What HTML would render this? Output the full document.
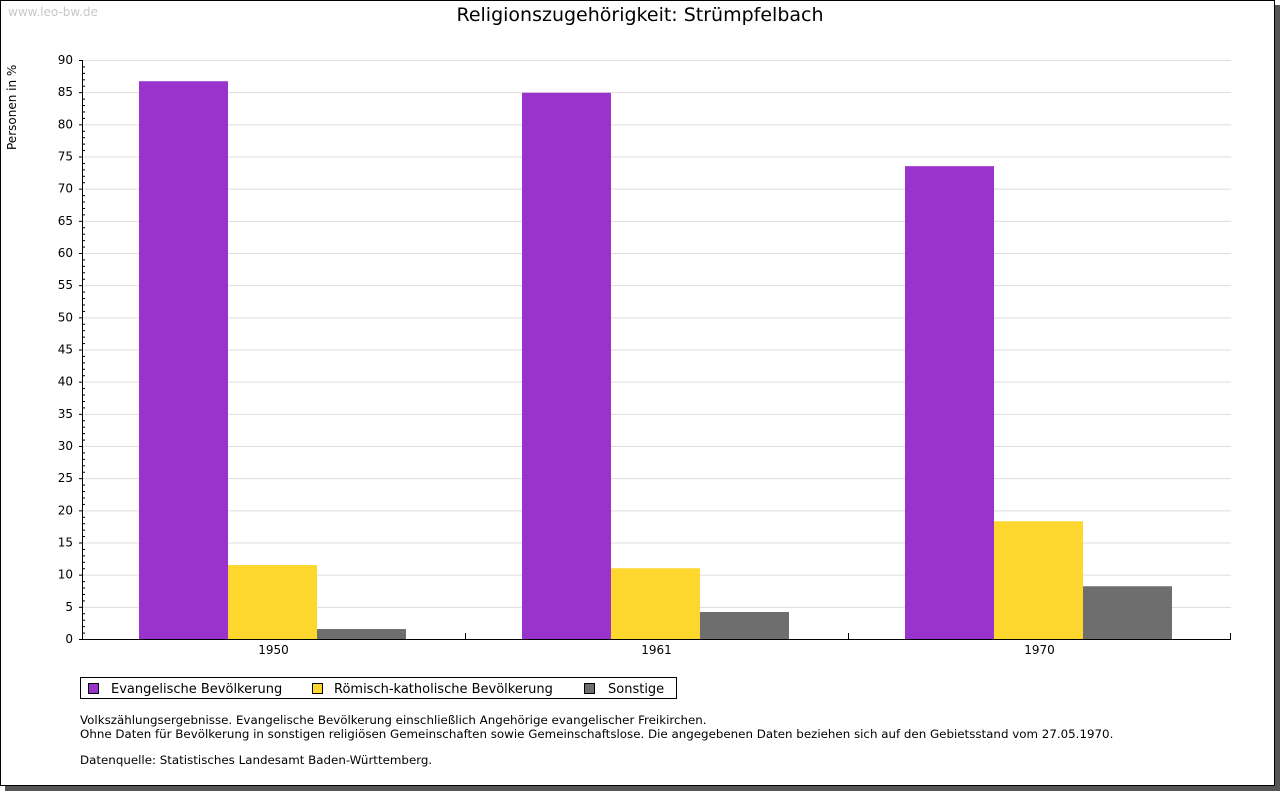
<!DOCTYPE html>
<html><head><meta charset="utf-8">
<style>
html,body{margin:0;padding:0;background:#fff;}
body{width:1280px;height:791px;position:relative;overflow:hidden;font-family:"DejaVu Sans","Liberation Sans",sans-serif;}
svg text{font-family:"DejaVu Sans","Liberation Sans",sans-serif;}
</style></head>
<body>
<svg id="chart" width="1280" height="791" xmlns="http://www.w3.org/2000/svg">
<rect x="5" y="5" width="1275" height="786" fill="#555"/>
<rect x="0.5" y="0.5" width="1274" height="785" fill="#fff" stroke="#000"/>
<text x="8" y="16" font-size="12" fill="#c8c8c8">www.leo-bw.de</text>
<text x="640" y="21" font-size="19" text-anchor="middle" fill="#000">Religionszugehörigkeit: Strümpfelbach</text>
<text transform="translate(16,150) rotate(-90)" font-size="12" fill="#000">Personen in %</text>
<g id="grid"></g><g id="bars"></g><g id="axes"></g>
<g>
<rect x="80.5" y="677.5" width="596" height="21" fill="#fff" stroke="#000"/>
<rect x="88.5" y="683.5" width="10" height="10" fill="#9933cc" stroke="#000"/>
<text x="111" y="693" font-size="13">Evangelische Bevölkerung</text>
<rect x="312.5" y="683.5" width="10" height="10" fill="#fdd72e" stroke="#000"/>
<text x="334" y="693" font-size="13">Römisch-katholische Bevölkerung</text>
<rect x="584.5" y="683.5" width="10" height="10" fill="#6e6e6e" stroke="#000"/>
<text x="608" y="693" font-size="13">Sonstige</text>
</g>
<g font-size="11.85" fill="#000">
<text x="80" y="724">Volkszählungsergebnisse. Evangelische Bevölkerung einschließlich Angehörige evangelischer Freikirchen.</text>
<text x="80" y="738">Ohne Daten für Bevölkerung in sonstigen religiösen Gemeinschaften sowie Gemeinschaftslose. Die angegebenen Daten beziehen sich auf den Gebietsstand vom 27.05.1970.</text>
<text x="80" y="764">Datenquelle: Statistisches Landesamt Baden-Württemberg.</text>
</g>
</svg>
<script>
const categories = ["1950","1961","1970"];
const evangelisch = [86.7, 84.9, 73.5];
const katholisch = [11.5, 11.0, 18.3];
const sonstige = [1.55, 4.2, 8.2];
const yTicks = [0,5,10,15,20,25,30,35,40,45,50,55,60,65,70,75,80,85,90];

const NS="http://www.w3.org/2000/svg";
const X0=82,X1=1231,Y0=639,Y1=60,YMAX=90;
const y=v=>Y0-(v/YMAX)*(Y0-Y1);
const gw=(X1-X0)/categories.length;
const gx=i=>X0+i*gw;
function mk(tag,attrs,parent){const e=document.createElementNS(NS,tag);for(const k in attrs)e.setAttribute(k,attrs[k]);document.getElementById(parent).appendChild(e);return e;}
yTicks.forEach(t=>{
  if(t>0){const l=mk('line',{x1:X0,x2:X1,y1:y(t)+0.5,y2:y(t)+0.5,stroke:'#ddd'},'grid');
  
  }
  const lab=mk('text',{x:73,y:y(t)+4,'font-size':12,'text-anchor':'end'},'axes');
  lab.textContent=t;
  
  
  mk('line',{x1:X0-3,x2:X0,y1:y(t)+0.5,y2:y(t)+0.5,stroke:'#000'},'axes');
});
for(let v=1;v<YMAX;v++){if(v%5)mk('line',{x1:X0,x2:X0+3,y1:y(v)+0.5,y2:y(v)+0.5,stroke:'#000'},'axes');}
const series=[[evangelisch,'#9933cc','evangelisch'],[katholisch,'#fdd72e','katholisch'],[sonstige,'#6e6e6e','sonstige']];
const bw=89;
categories.forEach((c,i)=>{
  const start=Math.round(gx(i)+(gw-3*bw)/2)-1;
  series.forEach((s,j)=>{
    const v=s[0][i];
    const r=mk('rect',{x:start+j*bw,y:y(v),width:bw,height:Y0-y(v),fill:s[1]},'bars');
    
    
  });
  const t=mk('text',{x:gx(i)+gw/2,y:Y0+15,'font-size':12,'text-anchor':'middle'},'axes');
  t.textContent=c;
  
  
  if(i>0)mk('line',{x1:gx(i)+0.5,x2:gx(i)+0.5,y1:Y0-6,y2:Y0,stroke:'#000'},'axes');
});
mk('line',{x1:X1-0.5,x2:X1-0.5,y1:Y0-6,y2:Y0,stroke:'#000'},'axes');
const xa=mk('line',{x1:X0,x2:X1,y1:Y0+0.5,y2:Y0+0.5,stroke:'#000'},'axes');


const ya=mk('line',{x1:X0+0.5,x2:X0+0.5,y1:Y1,y2:Y0,stroke:'#000'},'axes');


</script>
</body></html>
